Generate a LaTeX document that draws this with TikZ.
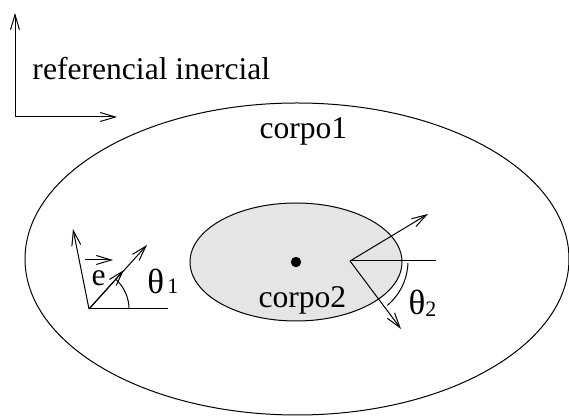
\documentclass[tikz,border=0pt]{standalone}
\usepackage{fontspec}
\setmainfont{Liberation Serif}
\usetikzlibrary{arrows.meta}
\definecolor{bodyfill}{gray}{0.9}
\begin{document}
\begin{tikzpicture}[x=0.5pt,y=-0.5pt,line width=0.5pt,
  lbl/.style={inner sep=0pt,anchor=base west,font=\fontsize{15.8}{18}\selectfont},
  vec/.style={-{Straight Barb[length=7.5pt,width=4.5pt]}}]
\useasboundingbox (0,0) rectangle (569,416);
% inertial frame
\coordinate (ax) at (15,117);
\coordinate (axy) at (15,13);
\coordinate (axx) at (117,117);
\draw[vec] (ax) -- (axy);
\draw[vec] (ax) -- (axx);
\node[lbl] (ref) at (32,80) {referencial inercial};
% bodies
\coordinate (c1) at (297,259);
\draw (c1) ellipse [x radius=136pt, y radius=78pt];
\coordinate (c2) at (296,262);
\draw[fill=bodyfill] (c2) ellipse [x radius=53pt, y radius=29.5pt];
\fill (c2) circle [radius=2.6pt];
\node[lbl] (corpo1) at (259,139) {corpo1};
\node[lbl] (corpo2) at (258,308) {corpo2};
% left vectors
\coordinate (o1) at (89,309);
\coordinate (h1) at (168,309);
\coordinate (a1) at (73,229);
\coordinate (b1) at (147,245);
\coordinate (e1) at (124,270);
\draw (o1) -- (h1);
\draw[vec] (o1) -- (a1);
\draw[vec] (o1) -- (b1);
\draw[vec] (o1) -- (e1);
\draw (o1) ++(0:20pt) arc [start angle=0, end angle=48, radius=20pt];
\node[lbl] (e) at (91,286) {e};
\coordinate (ea) at (85,260);
\coordinate (eb) at (113,260);
\draw[vec] (ea) -- (eb);
\node[lbl] (t1) at (147,294) {{\fontsize{17.5}{20}\selectfont θ}\hspace{1.5pt}{\fontsize{11}{12}\selectfont 1}};
% right vectors
\coordinate (o2) at (350,261);
\coordinate (h2) at (436,261);
\coordinate (a2) at (428,214);
\coordinate (b2) at (401,329);
\draw (o2) -- (h2);
\draw[vec] (o2) -- (a2);
\draw[vec] (o2) -- (b2);
\draw (o2) ++(-2:29pt) arc [start angle=-2, end angle=-50, radius=29pt];
\node[lbl] (t2) at (408,315) {{\fontsize{17.5}{20}\selectfont θ}\raisebox{-1pt}{\fontsize{11}{12}\selectfont 2}};
\end{tikzpicture}
\end{document}
